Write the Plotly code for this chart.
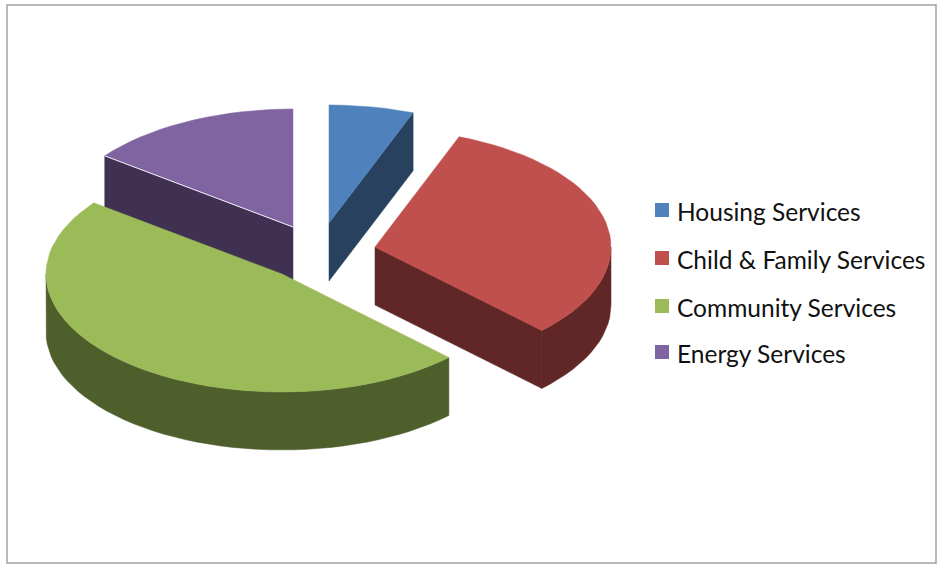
import numpy as np
import plotly.graph_objects as go

# Share of spending per service line, in percent
categories = ["Housing Services", "Child & Family Services", "Community Services", "Energy Services"]
shares = [5.8, 31.7, 47.8, 14.7]

top_colors = ["#4F81BD", "#C0504D", "#9BBB59", "#8064A2"]
side_colors = ["#27415F", "#612726", "#4F5F2C", "#403152"]

# Canvas-pixel geometry of the tilted, exploded pie
WIDTH, HEIGHT = 937, 565
RADIUS_X, RADIUS_Y = 236, 118
DEPTH = 58
CENTRES = [(329, 223), (375, 247), (282, 274), (293, 227)]
DRAW_ORDER = [3, 0, 1, 2]
ARC_STEP_DEG = 3.0

# Key placement: swatch column, label column, and one row per category
KEY_SWATCH_X = 662
KEY_LABEL_X = 677
KEY_SWATCH_Y = [210, 258, 306, 352]
KEY_LABEL_Y = [211, 259, 307, 353]


def rim(cx, cy, start, stop):
    """Points on the top rim of a slice between two clockwise angles from 12 o'clock."""
    n = max(2, int(abs(stop - start) / ARC_STEP_DEG) + 1)
    t = np.radians(np.linspace(start, stop, n))
    return cx + RADIUS_X * np.sin(t), cy - RADIUS_Y * np.cos(t)


def polygon_trace(xs, ys, color, name, width=0.5):
    return go.Scatter(
        x=np.append(xs, xs[0]), y=np.append(ys, ys[0]),
        mode="lines", fill="toself", fillcolor=color,
        line=dict(color=color, width=width),
        name=name, showlegend=False, hoverinfo="skip",
    )


def radial_wall(cx, cy, angle, color, name):
    ex, ey = rim(cx, cy, angle, angle)
    xs = np.array([cx, ex[0], ex[0], cx])
    ys = np.array([cy, ey[0], ey[0] + DEPTH, cy + DEPTH])
    return polygon_trace(xs, ys, color, name)


def outer_wall(cx, cy, start, stop, color, name):
    # Only the part of the rim facing the viewer (90 to 270 degrees) shows
    lo, hi = max(start, 90), min(stop, 270)
    if lo >= hi:
        return None
    xs, ys = rim(cx, cy, lo, hi)
    return polygon_trace(np.r_[xs, xs[::-1]], np.r_[ys, ys[::-1] + DEPTH], color, name)


edges = np.r_[0, np.cumsum(shares)] / np.sum(shares) * 360
# Which radial cut of each slice faces the viewer: its closing edge or its opening edge
visible_cut = {0: "stop", 1: "stop", 2: None, 3: "start"}

fig = go.Figure()

for i in DRAW_ORDER:
    cx, cy = CENTRES[i]
    start, stop = edges[i], edges[i + 1]
    name = categories[i]
    if visible_cut[i]:
        angle = stop if visible_cut[i] == "stop" else start
        fig.add_trace(radial_wall(cx, cy, angle, side_colors[i], name))
    wall = outer_wall(cx, cy, start, stop, side_colors[i], name)
    if wall is not None:
        fig.add_trace(wall)
    xs, ys = rim(cx, cy, start, stop)
    fig.add_trace(polygon_trace(np.r_[cx, xs], np.r_[cy, ys], top_colors[i], name))
    if i == 3:
        # Pale highlight along the front edge of this slice
        ex, ey = rim(cx, cy, start, start)
        fig.add_trace(go.Scatter(
            x=[ex[0], cx], y=[ey[0], cy], mode="lines",
            line=dict(color="#F4F1F7", width=1),
            showlegend=False, hoverinfo="skip",
        ))

# Key swatches
for name, color, y in zip(categories, top_colors, KEY_SWATCH_Y):
    fig.add_trace(go.Scatter(
        x=[KEY_SWATCH_X], y=[y], mode="markers", name=name, showlegend=False,
        marker=dict(symbol="square", size=14, color=color, line=dict(width=0)),
    ))

# Key labels
annotations = [
    dict(x=KEY_LABEL_X, y=y, xref="x", yref="y", text=name, showarrow=False,
         xanchor="left", yanchor="middle", xshift=-2,
         font=dict(family="Lato, sans-serif", size=24.5, color="#111111"))
    for name, y in zip(categories, KEY_LABEL_Y)
]

fig.update_layout(
    width=WIDTH, height=HEIGHT, autosize=False,
    margin=dict(l=0, r=0, t=0, b=0),
    paper_bgcolor="white", plot_bgcolor="white",
    xaxis=dict(range=[0, WIDTH], visible=False, fixedrange=True),
    yaxis=dict(range=[HEIGHT, 0], visible=False, fixedrange=True),
    showlegend=False,
    annotations=annotations,
    shapes=[dict(
        type="rect", xref="paper", yref="paper",
        x0=7 / WIDTH, x1=936 / WIDTH, y0=1 - 5 / HEIGHT, y1=1 - 563 / HEIGHT,
        line=dict(color="#A3A3A3", width=1.5),
    )],
)

fig.write_html("out.html")
